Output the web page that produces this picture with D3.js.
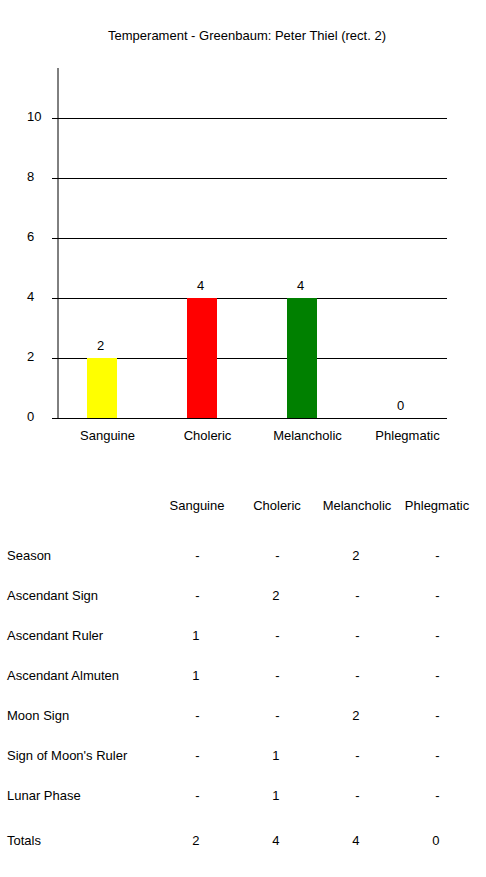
<!DOCTYPE html>
<html>
	<head>
		<script src="https://d3js.org/d3.v7.min.js"></script>
		<style>
			body { margin: 0; background: #fff; }
			text {
			  font-family: "Liberation Sans", Arial, sans-serif;
			  font-size: 13px;
			  fill: #000;
			}
			.grid line { stroke: #000; stroke-width: 1px; }
		</style>
	</head>
	<body>
		<svg width="486" height="877"></svg>

		<script type="text/javascript">
			var title = "Temperament - Greenbaum: Peter Thiel (rect. 2)";
			var categories = ["Sanguine", "Choleric", "Melancholic", "Phlegmatic"];
			var totals = [2, 4, 4, 0];
			var colors = ["#ffff00", "#ff0000", "#008000", "#0000ff"];
			var yTicks = [0, 2, 4, 6, 8, 10];

			var rowLabels = ["Season", "Ascendant Sign", "Ascendant Ruler", "Ascendant Almuten",
			  "Moon Sign", "Sign of Moon's Ruler", "Lunar Phase"];
			var rowValues = [
			  ["-", "-", "2", "-"],
			  ["-", "2", "-", "-"],
			  ["1", "-", "-", "-"],
			  ["1", "-", "-", "-"],
			  ["-", "-", "2", "-"],
			  ["-", "1", "-", "-"],
			  ["-", "1", "-", "-"]
			];

			var svg = d3.select("svg");

			svg.append("text")
			  .attr("x", 247)
			  .attr("y", 40)
			  .attr("text-anchor", "middle")
			  .text(title);

			// chart area
			var plotLeft = 58, plotRight = 447, plotTop = 68, plotBottom = 418;

			var y = d3.scaleLinear()
			  .domain([0, 350 / 30])
			  .range([plotBottom, plotTop]);

			var x = d3.scaleBand()
			  .domain(categories)
			  .range([52, 452])
			  .paddingInner(0.7)
			  .paddingOuter(0.35);

			var yAxis = svg.append("g")
			  .attr("class", "grid")
			  .attr("transform", "translate(" + plotLeft + ",0)")
			  .call(d3.axisLeft(y).tickValues(yTicks).tickSize(-(plotRight - plotLeft)));
			yAxis.select(".domain").remove();
			yAxis.selectAll(".tick line").attr("x1", -6);
			yAxis.selectAll(".tick text")
			  .attr("x", -31)
			  .attr("dy", 2)
			  .attr("text-anchor", "start")
			  .style("font-size", "13px")
			  .style("font-family", "Liberation Sans, Arial, sans-serif");

			svg.append("line")
			  .attr("x1", plotLeft).attr("x2", plotLeft)
			  .attr("y1", plotTop).attr("y2", plotBottom)
			  .attr("stroke", "#000");

			svg.selectAll("rect.bar")
			  .data(totals)
			  .enter()
			  .append("rect")
			  .attr("class", "bar")
			  .attr("x", function(d, i) { return x(categories[i]); })
			  .attr("y", function(d) { return y(d); })
			  .attr("width", x.bandwidth())
			  .attr("height", function(d) { return y(0) - y(d); })
			  .attr("fill", function(d, i) { return colors[i]; });

			svg.selectAll("text.val")
			  .data(totals)
			  .enter()
			  .append("text")
			  .attr("class", "val")
			  .attr("x", function(d, i) { return x(categories[i]) + x.bandwidth() / 2 - 1.5; })
			  .attr("y", function(d) { return y(d) - 8; })
			  .attr("text-anchor", "middle")
			  .text(function(d) { return d; });

			svg.selectAll("text.cat")
			  .data(categories)
			  .enter()
			  .append("text")
			  .attr("class", "cat")
			  .attr("x", function(d) { return x(d) + x.bandwidth() / 2 + 5.5; })
			  .attr("y", 440)
			  .attr("text-anchor", "middle")
			  .text(function(d) { return d; });

			// table
			var col = d3.scalePoint()
			  .domain(categories)
			  .range([197, 437]);

			svg.selectAll("text.head")
			  .data(categories)
			  .enter()
			  .append("text")
			  .attr("class", "head")
			  .attr("x", function(d) { return col(d); })
			  .attr("y", 510)
			  .attr("text-anchor", "middle")
			  .text(function(d) { return d; });

			var rows = svg.selectAll("g.row")
			  .data(rowLabels)
			  .enter()
			  .append("g")
			  .attr("class", "row")
			  .attr("transform", function(d, i) { return "translate(0," + (560 + i * 40) + ")"; });

			rows.append("text")
			  .attr("x", 7)
			  .text(function(d) { return d; });

			rows.selectAll("text.cell")
			  .data(function(d, i) { return rowValues[i]; })
			  .enter()
			  .append("text")
			  .attr("class", "cell")
			  .attr("x", function(d, j) { return col(categories[j]) + 2.5; })
			  .attr("text-anchor", "end")
			  .text(function(d) { return d; });

			var totalRow = svg.append("g")
			  .attr("transform", "translate(0,845)");
			totalRow.append("text")
			  .attr("x", 7)
			  .text("Totals");
			totalRow.selectAll("text.cell")
			  .data(totals)
			  .enter()
			  .append("text")
			  .attr("class", "cell")
			  .attr("x", function(d, j) { return col(categories[j]) + 2.5; })
			  .attr("text-anchor", "end")
			  .text(function(d) { return d; });
		</script>
	</body>
</html>
